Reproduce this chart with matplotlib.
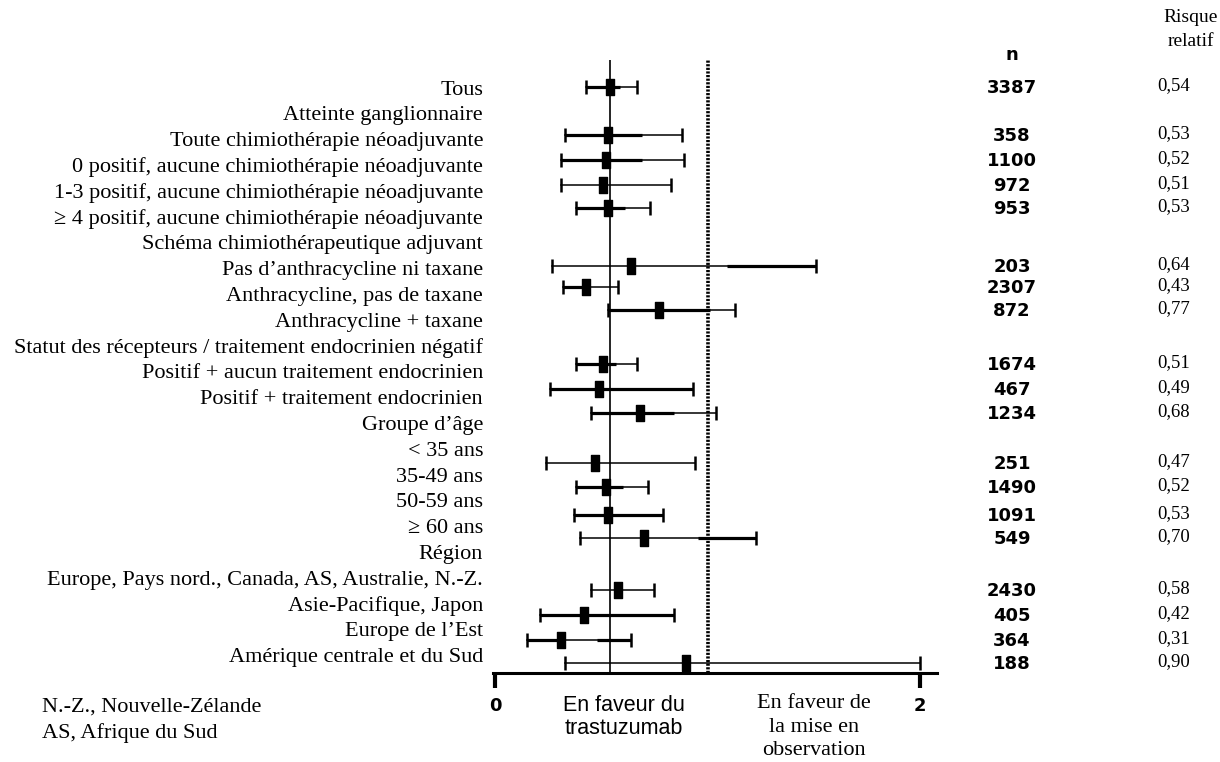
import matplotlib.pyplot as plt
from matplotlib.path import Path

# left column labels (one per text row)
labels = ["Tous",
          "Atteinte ganglionnaire",
          "Toute chimiothérapie néoadjuvante",
          "0 positif, aucune chimiothérapie néoadjuvante",
          "1-3 positif, aucune chimiothérapie néoadjuvante",
          "≥ 4 positif, aucune chimiothérapie néoadjuvante",
          "Schéma chimiothérapeutique adjuvant",
          "Pas d’anthracycline ni taxane",
          "Anthracycline, pas de taxane",
          "Anthracycline + taxane",
          "Statut des récepteurs / traitement endocrinien négatif",
          "Positif + aucun traitement endocrinien",
          "Positif + traitement endocrinien",
          "Groupe d’âge",
          "< 35 ans",
          "35-49 ans",
          "50-59 ans",
          "≥ 60 ans",
          "Région",
          "Europe, Pays nord., Canada, AS, Australie, N.-Z.",
          "Asie-Pacifique, Japon",
          "Europe de l’Est",
          "Amérique centrale et du Sud"]

# subgroups with estimates (bars sit a bit off the label rows in the source)
bar_row = [0, 1.86, 2.83, 3.80, 4.69, 6.94, 7.75, 8.64, 10.74, 11.71, 12.64,
           14.57, 15.50, 16.59, 17.48, 19.50, 20.47, 21.43, 22.33]
n_pat = [3387, 358, 1100, 972, 953, 203, 2307, 872, 1674, 467, 1234,
         251, 1490, 1091, 549, 2430, 405, 364, 188]
rr = [0.54, 0.53, 0.52, 0.51, 0.53, 0.64, 0.43, 0.77, 0.51, 0.49, 0.68,
      0.47, 0.52, 0.53, 0.70, 0.58, 0.42, 0.31, 0.90]
ci_lo = [0.43, 0.33, 0.31, 0.31, 0.38, 0.27, 0.32, 0.53, 0.38, 0.26, 0.45,
         0.24, 0.38, 0.37, 0.40, 0.45, 0.21, 0.15, 0.33]
ci_hi = [0.67, 0.88, 0.89, 0.83, 0.73, 1.51, 0.58, 1.13, 0.67, 0.93, 1.04,
         0.94, 0.72, 0.79, 1.23, 0.75, 0.84, 0.64, 2.00]
# parts of each interval drawn heavier in the source
thick = [[(0.43, 0.59)], [(0.33, 0.69)], [(0.31, 0.69)], [], [(0.38, 0.61)],
         [(1.09, 1.51)], [(0.32, 0.43)], [(0.53, 1.01)], [(0.38, 0.57)],
         [(0.26, 0.93)], [(0.45, 0.84)], [], [(0.38, 0.60)], [(0.37, 0.79)],
         [(0.955, 1.23)], [], [(0.21, 0.84)], [(0.15, 0.31), (0.48, 0.64)], []]

serif = "Liberation Serif"
sans = "DejaVu Sans"

fig = plt.figure(figsize=(12.2, 7.62), dpi=100)
W, H = 1220, 762
# axes: x 0 -> 495px, 2 -> 920px ; y from 60px to 673px
px_per = 425 / 2
x_left, x_right = 493, 937
y_top, y_bot = 60, 673
ax = fig.add_axes([x_left / W, 1 - y_bot / H, (x_right - x_left) / W, (y_bot - y_top) / H])
ax.set_xlim((x_left - 495) / px_per, (x_right - 495) / px_per)
row_h = 25.8
ax.set_ylim((y_bot - 87) / row_h, (y_top - 87) / row_h)
for s in ["top", "right", "left"]:
    ax.spines[s].set_visible(False)
ax.spines["bottom"].set_linewidth(2.2)
ax.set_yticks([])
ax.set_xticks([0, 2])
ax.set_xticklabels(["0", "2"], fontsize=13, fontweight="bold", family=sans)
ax.tick_params(axis="x", length=11, width=3, direction="out", pad=6)

ax.axvline(rr[0], color="black", lw=1.2, zorder=1)
ax.axvline(1, color="black", lw=2.6, ls=(0, (0.6, 0.4)), zorder=1)

rect = Path([(-0.55, -1), (0.55, -1), (0.55, 1), (-0.55, 1), (-0.55, -1)],
            [Path.MOVETO, Path.LINETO, Path.LINETO, Path.LINETO, Path.CLOSEPOLY])

for i in range(len(rr)):
    y = bar_row[i]
    ax.plot([ci_lo[i], ci_hi[i]], [y, y], color="black", lw=1.1, zorder=2)
    for a, b in thick[i]:
        ax.plot([a, b], [y, y], color="black", lw=2.3, zorder=2, solid_capstyle="butt")
    ax.plot([ci_lo[i], ci_hi[i]], [y, y], ls="none", marker="|", ms=10, mew=1.8,
            color="black", zorder=3, clip_on=False)
    ax.plot(rr[i], y, ls="none", marker=rect, ms=11, color="black", zorder=4)

# left labels
for i, lab in enumerate(labels):
    ax.text(-12 / px_per, i + 0.12, lab, ha="right", va="center", fontsize=16,
            family=serif, clip_on=False)

# n and relative risk columns
def px_x(px):
    return (px - 495) / px_per

ax.text(px_x(1012), (55 - 87) / row_h, "n", ha="center", va="center",
        fontsize=13, fontweight="bold", family=sans, clip_on=False)
ax.text(px_x(1191), (18 - 87) / row_h, "Risque", ha="center", va="center",
        fontsize=14, family=serif, clip_on=False)
ax.text(px_x(1191), (42 - 87) / row_h, "relatif", ha="center", va="center",
        fontsize=14, family=serif, clip_on=False)
for i in range(len(rr)):
    ax.text(px_x(1012), bar_row[i] + 0.05, str(n_pat[i]), ha="center", va="center",
            fontsize=13, fontweight="bold", family=sans, clip_on=False)
    ax.text(px_x(1174), bar_row[i] - 0.05, f"{rr[i]:.2f}".replace(".", ","),
            ha="center", va="center", fontsize=13.5, family=serif, clip_on=False)

# bottom annotations
fig.text(42 / W, 1 - 707 / H, "N.-Z., Nouvelle-Zélande", ha="left", va="center",
         fontsize=16, family=serif)
fig.text(42 / W, 1 - 733 / H, "AS, Afrique du Sud", ha="left", va="center",
         fontsize=16, family=serif)
fig.text(624 / W, 1 - 717 / H, "En faveur du\ntrastuzumab", ha="center", va="center",
         fontsize=15.5, family="Liberation Sans", linespacing=1.18)
fig.text(814 / W, 1 - 727 / H, "En faveur de\nla mise en\nobservation", ha="center",
         va="center", fontsize=16, family=serif, linespacing=1.34)

fig.savefig("out.png", dpi=100)
